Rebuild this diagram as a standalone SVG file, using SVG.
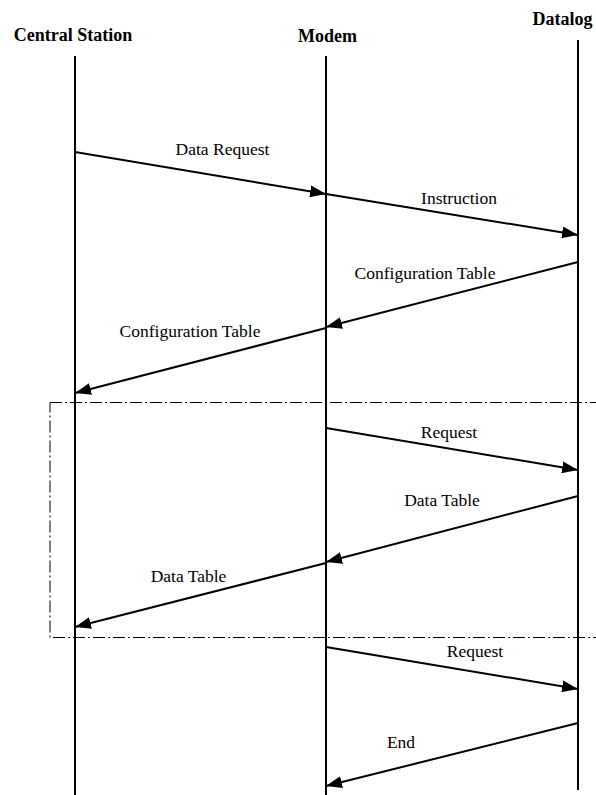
<svg xmlns="http://www.w3.org/2000/svg" width="596" height="795" viewBox="0 0 596 795">
  <style>
    .head { font-family: "Liberation Serif", "Times New Roman", serif; font-weight: bold; font-size: 18px; fill: #000; text-anchor: middle; }
    .lbl { font-family: "Liberation Serif", "Times New Roman", serif; font-size: 17.5px; fill: #000; text-anchor: middle; }
    .life { stroke: #000; stroke-width: 2; fill: none; }
    .msg { stroke: #000; stroke-width: 2; fill: none; marker-end: url(#arrow); }
    .frame { stroke: #000; stroke-width: 1; fill: none; stroke-dasharray: 12 3 2 3; }
  </style>
  <defs>
    <marker id="arrow" markerUnits="userSpaceOnUse" viewBox="0 0 16 12" markerWidth="16" markerHeight="12" refX="16" refY="6" orient="auto">
      <path d="M0,0 L16,6 L0,12 Z" fill="#000"/>
    </marker>
  </defs>

  <!-- participants -->
  <g id="central-station">
    <text class="head" x="73" y="41">Central Station</text>
    <line class="life" x1="75" y1="56" x2="75" y2="795"/>
  </g>
  <g id="modem">
    <text class="head" x="327.5" y="41.5">Modem</text>
    <line class="life" x1="326" y1="56" x2="326" y2="795"/>
  </g>
  <g id="datalog">
    <text class="head" x="562.5" y="25">Datalog</text>
    <line class="life" x1="578" y1="40" x2="578" y2="790"/>
  </g>

  <!-- repeated exchange frame -->
  <g id="loop-frame">
    <rect class="frame" x="50" y="402.5" width="560" height="235"/>
  </g>

  <!-- messages -->
  <g id="messages">
    <line class="msg" x1="75" y1="152" x2="326" y2="194"/>
    <text class="lbl" x="222.5" y="155">Data Request</text>

    <line class="msg" x1="326" y1="194" x2="578" y2="235"/>
    <text class="lbl" x="459" y="204">Instruction</text>

    <line class="msg" x1="578" y1="262" x2="326" y2="327"/>
    <text class="lbl" x="425" y="279">Configuration Table</text>

    <line class="msg" x1="326" y1="328" x2="75" y2="393"/>
    <text class="lbl" x="190" y="337">Configuration Table</text>

    <line class="msg" x1="326" y1="428" x2="578" y2="470"/>
    <text class="lbl" x="449" y="438">Request</text>

    <line class="msg" x1="578" y1="496" x2="326" y2="562"/>
    <text class="lbl" x="442" y="505.5">Data Table</text>

    <line class="msg" x1="326" y1="563" x2="75" y2="627"/>
    <text class="lbl" x="188.5" y="581.5">Data Table</text>

    <line class="msg" x1="326" y1="647" x2="578" y2="689"/>
    <text class="lbl" x="475" y="657">Request</text>

    <line class="msg" x1="578" y1="723" x2="326" y2="786"/>
    <text class="lbl" x="401" y="748">End</text>
  </g>
</svg>
